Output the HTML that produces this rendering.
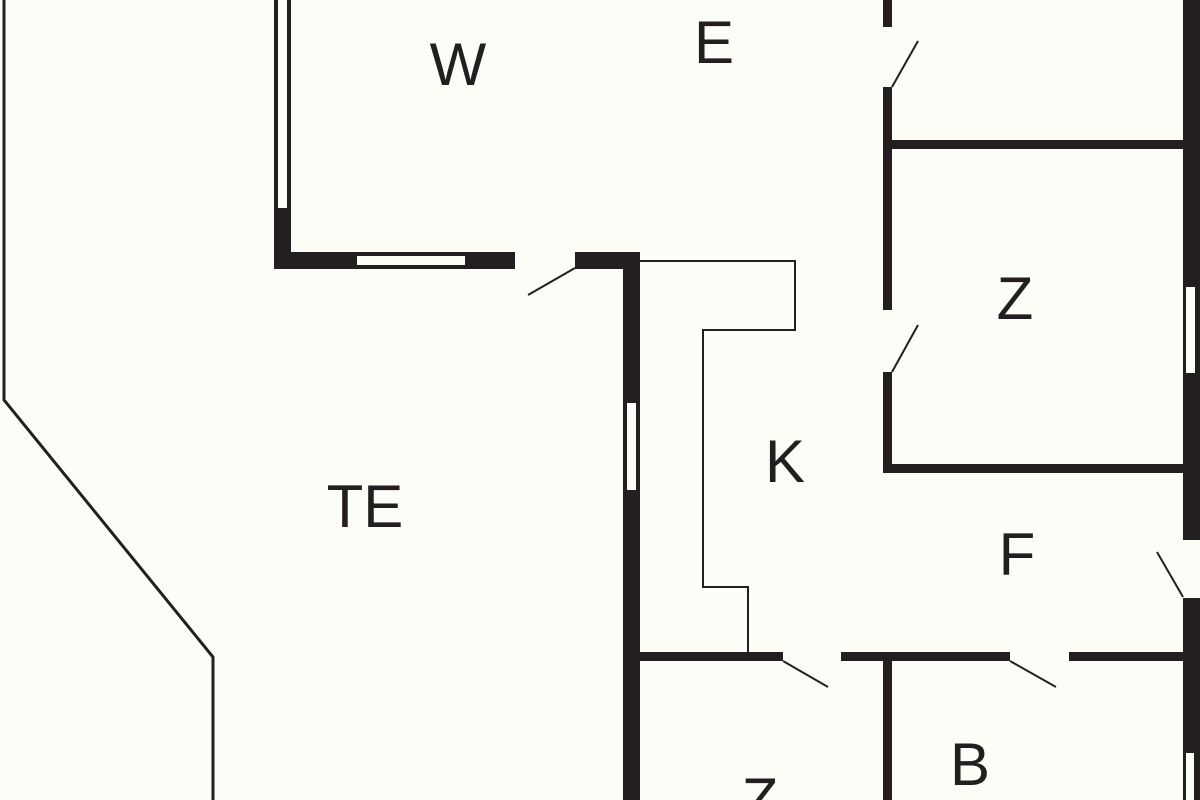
<!DOCTYPE html>
<html><head><meta charset="utf-8"><style>
html,body{margin:0;padding:0;background:#fdfdf8;}
svg{display:block}
text{font-family:"Liberation Sans","DejaVu Sans",sans-serif;font-size:60px;fill:#231f20;text-anchor:middle}
</style></head><body>
<svg width="1200" height="800" viewBox="0 0 1200 800">
<rect width="1200" height="800" fill="#fdfdf8"/>
<g fill="#231f20">
<!-- outer left thin boundary -->
</g>
<polyline points="4,0 4,400 213,657 213,800" fill="none" stroke="#231f20" stroke-width="3"/>
<g fill="#231f20">
<!-- W left wall with window -->
<rect x="274" y="0" width="17" height="269"/>
<rect x="278" y="0" width="9" height="208" fill="#fdfdf8"/>
<!-- W bottom wall -->
<rect x="274" y="252" width="241" height="17"/>
<rect x="357" y="256" width="108" height="9" fill="#fdfdf8"/>
<rect x="575" y="252" width="65" height="17"/>
<rect x="623" y="252" width="17" height="548"/>
<rect x="627" y="403" width="9" height="87" fill="#fdfdf8"/>
<!-- middle vertical wall -->
<rect x="883" y="0" width="9" height="27"/>
<rect x="883" y="87" width="9" height="223"/>
<rect x="883" y="372" width="9" height="101"/>
<rect x="883" y="140" width="300" height="9"/>
<rect x="883" y="464" width="300" height="9"/>
<!-- right wall -->
<rect x="1183" y="0" width="17" height="540"/>
<rect x="1186" y="287" width="9" height="86" fill="#fdfdf8"/>
<rect x="1183" y="598" width="17" height="202"/>
<rect x="1186" y="753" width="8" height="47" fill="#fdfdf8"/>
<!-- lower horizontal wall -->
<rect x="640" y="652" width="143" height="9"/>
<rect x="841" y="652" width="169" height="9"/>
<rect x="1069" y="652" width="114" height="9"/>
<rect x="883" y="652" width="9" height="148"/>
</g>
<g stroke="#231f20" stroke-width="2" fill="none">
<line x1="575" y1="268" x2="528" y2="295"/>
<line x1="892" y1="87" x2="918" y2="41"/>
<line x1="892" y1="372" x2="918" y2="325"/>
<line x1="1183" y1="597" x2="1157" y2="552"/>
<line x1="783" y1="661" x2="828" y2="687"/>
<line x1="1010" y1="661" x2="1056" y2="687"/>
<polyline points="640,261 795,261 795,330 703,330 703,587 748,587 748,653"/>
</g>
<text x="458" y="85">W</text>
<text x="714" y="63">E</text>
<text x="1015" y="319">Z</text>
<text x="785" y="482">K</text>
<text x="365" y="527">TE</text>
<text x="1017" y="575">F</text>
<text x="970" y="785">B</text>
<text x="760" y="820">Z</text>
</svg>
</body></html>
